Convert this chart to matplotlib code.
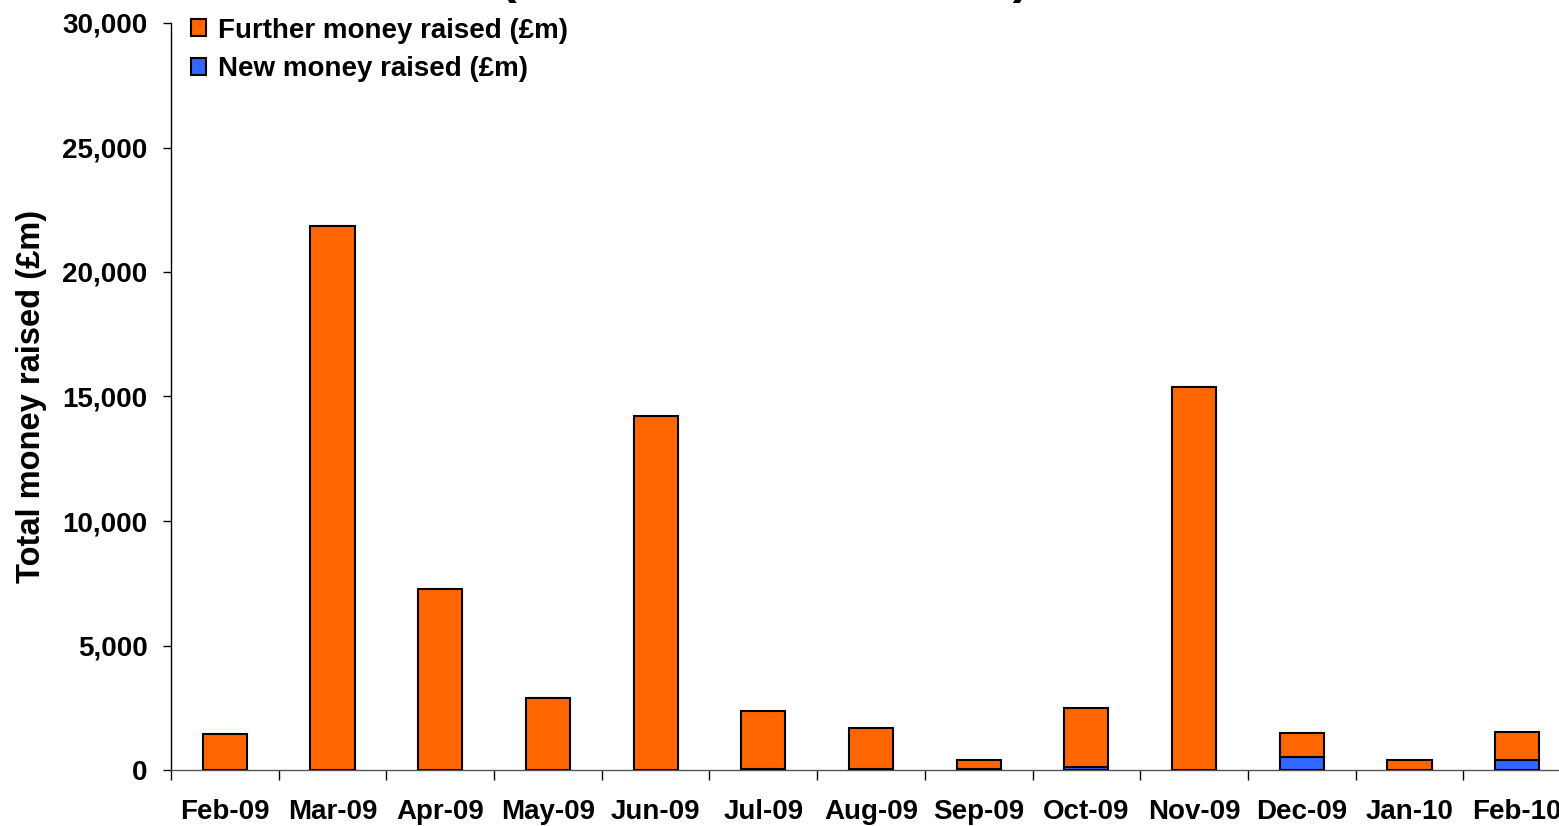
import numpy as np
import matplotlib.pyplot as plt
from matplotlib.ticker import FuncFormatter

months = ["Feb-09", "Mar-09", "Apr-09", "May-09", "Jun-09", "Jul-09", "Aug-09",
          "Sep-09", "Oct-09", "Nov-09", "Dec-09", "Jan-10", "Feb-10"]
new_money = [0, 0, 0, 0, 0, 60, 60, 50, 130, 0, 530, 0, 400]
further_money = [1430, 21850, 7270, 2900, 14220, 2300, 1630, 370, 2370, 15380, 960, 410, 1140]

ORANGE = "#FF6600"
BLUE = "#3366FF"

plt.rcParams['font.family'] = ['Liberation Sans', 'DejaVu Sans']
plt.rcParams['font.weight'] = 'bold'

fig = plt.figure(figsize=(15.59, 8.26), dpi=100)
ax = fig.add_axes([171 / 1559, 56 / 826, 1400 / 1559, 747 / 826])

x = np.arange(len(months))
width = 0.41
ax.bar(x, new_money, width, color=BLUE, edgecolor='black', linewidth=1.5,
       label='New money raised (£m)', zorder=3)
ax.bar(x, further_money, width, bottom=new_money, color=ORANGE, edgecolor='black',
       linewidth=1.5, label='Further money raised (£m)', zorder=3)

ax.set_xlim(-0.5, len(months) - 0.5)
ax.set_ylim(0, 30000)
ax.set_yticks(np.arange(0, 30001, 5000))
ax.yaxis.set_major_formatter(FuncFormatter(lambda v, p: f"{int(v):,}"))
ax.tick_params(axis='y', length=6, width=1, pad=11, labelsize=20)

# category labels at centres, separator ticks between categories
ax.set_xticks(x)
ax.set_xticklabels(months)
ax.set_xticks(np.arange(-0.5, len(months), 1), minor=True)
ax.tick_params(axis='x', which='major', length=0, pad=21, labelsize=20)
ax.tick_params(axis='x', which='minor', length=7, width=1)

for lab in ax.get_xticklabels() + ax.get_yticklabels():
    lab.set_fontweight('bold')

ax.spines['top'].set_visible(False)
ax.spines['right'].set_visible(False)
ax.spines['left'].set_linewidth(1)
ax.spines['bottom'].set_linewidth(1)
ax.spines['bottom'].set_color('#555555')

ax.set_ylabel("Total money raised (£m)", fontsize=23.5, fontweight='bold', labelpad=11)

handles, labels = ax.get_legend_handles_labels()
leg = ax.legend(handles[::-1], labels[::-1], loc='upper left', frameon=False,
                fontsize=20, handlelength=0.55, handleheight=0.55, handletextpad=0.4,
                labelspacing=0.45, borderaxespad=0, bbox_to_anchor=(0.0065, 1.022))
for t in leg.get_texts():
    t.set_fontweight('bold')

# title sits mostly above the visible area
fig.text(500 / 1559, 1.009, "(Main Market and AIM)", fontsize=36, fontweight='bold',
         ha='left', va='baseline')

fig.savefig("out.png", dpi=100)
